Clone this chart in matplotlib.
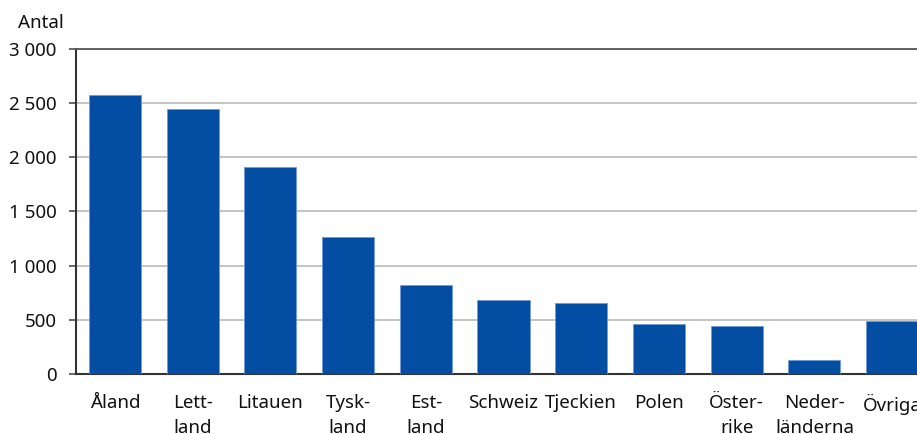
import numpy as np
import matplotlib.pyplot as plt

plt.rcParams['font.family'] = ['Noto Sans', 'DejaVu Sans']

# data
countries = ["Åland", "Lett-\nland", "Litauen", "Tysk-\nland", "Est-\nland", "Schweiz",
             "Tjeckien", "Polen", "Öster-\nrike", "Neder-\nländerna", "Övriga"]
antal = [2575, 2445, 1909, 1264, 817, 682, 651, 460, 444, 127, 490]
yticks = [0, 500, 1000, 1500, 2000, 2500, 3000]
ytick_labels = ["0", "500", "1 000", "1 500", "2 000", "2 500", "3 000"]

fs = 13.5

fig = plt.figure(figsize=(9.17, 4.34), dpi=100)
# axes runs past the right edge of the figure, like the original (Övriga is cut off)
ax = fig.add_axes([76 / 917, 0.139, 855 / 917, 0.7475])

x = np.arange(len(countries))
ax.bar(x, antal, width=0.67, color="#034ea2", edgecolor="#6f9bd6", linewidth=0.6, zorder=3)

ax.set_xlim(-0.5, len(countries) - 0.5)
ax.set_ylim(0, 3000)
ax.set_yticks(yticks)
ax.set_yticklabels(ytick_labels)
ax.set_xticks(x)
ax.set_xticklabels(countries, multialignment="center", linespacing=1.5)

ax.yaxis.grid(True, color="#b4b4b4", linewidth=1.1, zorder=0)
ax.tick_params(axis="y", length=5, width=1.1, color="#404040", pad=9, labelsize=fs,
               labelcolor="#111111")
ax.tick_params(axis="x", length=0, pad=14.5, labelsize=fs, labelcolor="#111111")

for side in ["left", "bottom"]:
    ax.spines[side].set_color("#333333")
    ax.spines[side].set_linewidth(1.5)
ax.spines["top"].set_color("#555555")
ax.spines["top"].set_linewidth(1.3)
ax.spines["right"].set_visible(False)

fig.text(18 / 917, 1 - 23 / 434, "Antal", fontsize=fs, va="center", ha="left", color="#111111")

fig.savefig("out.png", dpi=100)
